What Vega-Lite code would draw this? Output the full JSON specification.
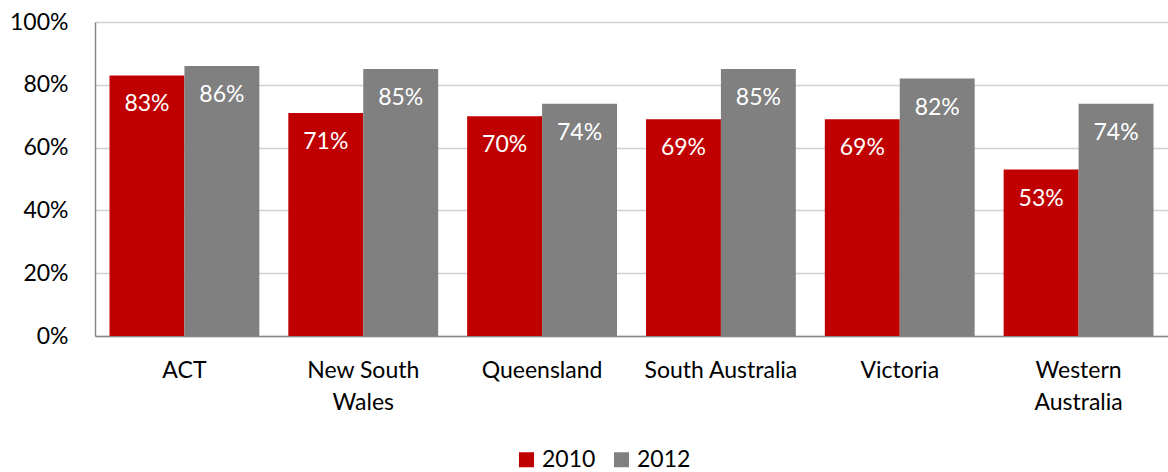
{
  "$schema": "https://vega.github.io/schema/vega-lite/v6.json",
  "width": 1073,
  "height": 314,
  "autosize": {"type": "none"},
  "padding": {"left": 95, "top": 22, "right": 0, "bottom": 136},
  "background": "white",
  "config": {
    "view": {"stroke": null},
    "font": "Lato",
    "axis": {"labelFont": "Lato", "labelColor": "#000000", "labelFontSize": 23}
  },
  "data": {
    "values": [
      {"state": "ACT", "year": "2010", "value": 0.83},
      {"state": "ACT", "year": "2012", "value": 0.86},
      {"state": "New South Wales", "year": "2010", "value": 0.71},
      {"state": "New South Wales", "year": "2012", "value": 0.85},
      {"state": "Queensland", "year": "2010", "value": 0.70},
      {"state": "Queensland", "year": "2012", "value": 0.74},
      {"state": "South Australia", "year": "2010", "value": 0.69},
      {"state": "South Australia", "year": "2012", "value": 0.85},
      {"state": "Victoria", "year": "2010", "value": 0.69},
      {"state": "Victoria", "year": "2012", "value": 0.82},
      {"state": "Western Australia", "year": "2010", "value": 0.53},
      {"state": "Western Australia", "year": "2012", "value": 0.74}
    ]
  },
  "encoding": {
    "x": {
      "field": "state",
      "type": "nominal",
      "sort": null,
      "scale": {"paddingInner": 0.162, "paddingOuter": 0.081},
      "axis": {
        "title": null,
        "labelAngle": 0,
        "ticks": false,
        "domainColor": "#868686",
        "domainWidth": 1.5,
        "labelPadding": 23,
        "labelLineHeight": 32,
        "labelOverlap": false,
        "labelExpr": "datum.label == 'New South Wales' ? ['New South', 'Wales'] : datum.label == 'Western Australia' ? ['Western', 'Australia'] : datum.label"
      }
    },
    "xOffset": {"field": "year", "type": "nominal"},
    "y": {
      "field": "value",
      "type": "quantitative",
      "scale": {"domain": [0, 1]},
      "axis": {
        "title": null,
        "format": ".0%",
        "values": [0, 0.2, 0.4, 0.6, 0.8, 1],
        "ticks": false,
        "labelOverlap": false,
        "labelPadding": 27,
        "domainColor": "#868686",
        "domainWidth": 1.5,
        "gridColor": "#D0D0D0",
        "gridWidth": 1.5
      }
    }
  },
  "layer": [
    {
      "mark": {"type": "bar"},
      "encoding": {
        "color": {
          "field": "year",
          "type": "nominal",
          "scale": {"domain": ["2010", "2012"], "range": ["#C00000", "#808080"]},
          "legend": {
            "title": null,
            "orient": "none",
            "direction": "horizontal",
            "legendX": 420,
            "legendY": 426,
            "symbolType": "square",
            "symbolSize": 225,
            "symbolStrokeWidth": 0,
            "labelFontSize": 23,
            "labelFont": "Lato",
            "labelColor": "#000000",
            "columnPadding": 14,
            "labelOffset": 4
          }
        }
      }
    },
    {
      "mark": {"type": "text", "color": "white", "fontSize": 23, "baseline": "middle", "dy": 29},
      "encoding": {
        "text": {"field": "value", "type": "quantitative", "format": ".0%"}
      }
    }
  ]
}
